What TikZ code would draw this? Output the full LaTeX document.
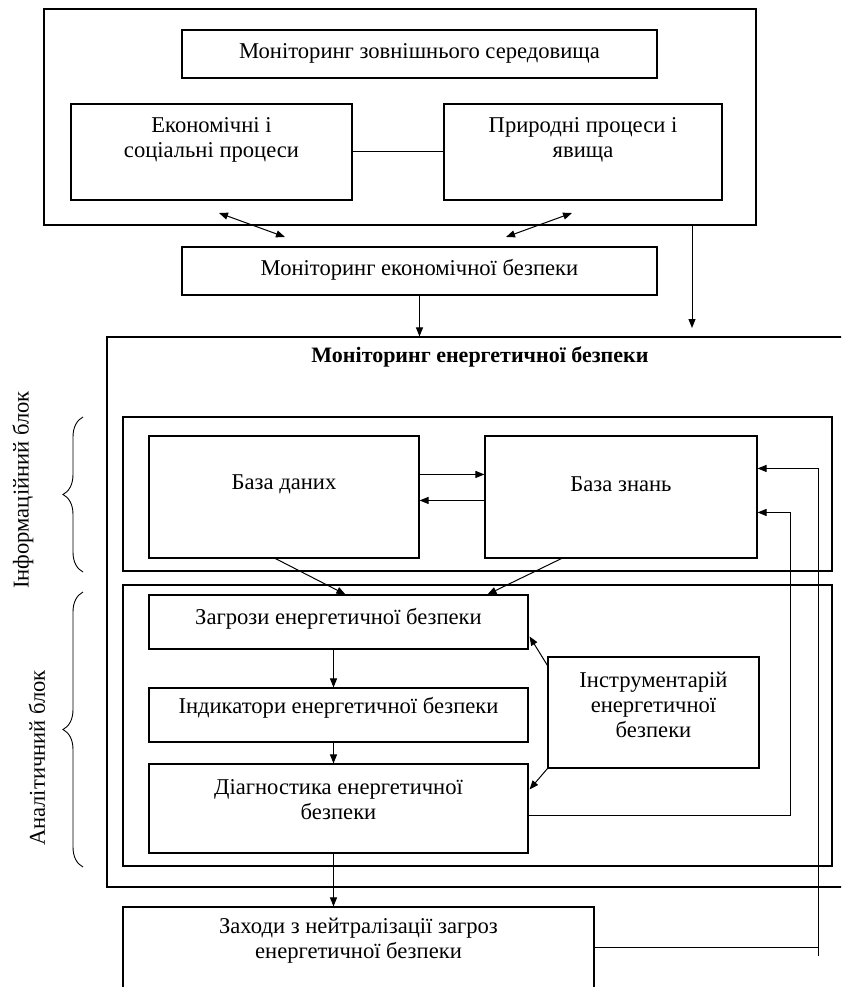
\documentclass[tikz,border=0pt]{standalone}
\usepackage{fontspec}
\setmainfont{Liberation Serif}
\usetikzlibrary{arrows.meta,calc,decorations.pathreplacing}
\begin{document}
\begin{tikzpicture}[x=1pt,y=-1pt,
  box/.style={draw, line width=1.1pt, inner sep=0pt},
  txt/.style={align=center, font=\fontsize{22.6}{25}\selectfont, inner sep=0pt},
  conn/.style={line width=1pt},
  arr/.style={line width=1pt, -{Triangle[length=9pt,width=7pt]}},
  darr/.style={line width=1pt, {Triangle[length=9pt,width=7pt]}-{Triangle[length=9pt,width=7pt]}},
  brc/.style={line width=0.9pt, decorate, decoration={brace, amplitude=20pt}},
]
\path[use as bounding box, clip] (0,0) rectangle (841,987);
\fill[white] (0,0) rectangle (841,987);

% top block
\node[box, minimum width=712pt, minimum height=216pt] (outer) at (400,117) {};
\node[box, minimum width=475pt, minimum height=48pt] (ext) at (419.5,54) {};
\node[txt] (extT) at (419.5,53) {Моніторинг зовнішнього середовища};
\node[box, minimum width=281pt, minimum height=96pt] (eco) at (211.5,152) {};
\node[txt] (ecoT) at (211.5,140) {Економічні і\\соціальні процеси};
\node[box, minimum width=278pt, minimum height=96pt] (nat) at (583,152) {};
\node[txt] (natT) at (583,140) {Природні процеси і\\явища};
\draw[conn] (eco.east) -- (nat.west);

\coordinate (a1) at (219,213);
\coordinate (a2) at (285,237);
\coordinate (b1) at (572,213);
\coordinate (b2) at (506,237);
\draw[darr] (a1) -- (a2);
\draw[darr] (b1) -- (b2);

\node[box, minimum width=475pt, minimum height=48pt] (ecsec) at (419.5,271) {};
\node[txt] (ecsecT) at (419.5,270) {Моніторинг економічної безпеки};

% energy security block
\node[box, minimum width=753pt, minimum height=550pt] (energy) at (483.5,612) {};
\node[txt, font=\fontsize{22}{25}\selectfont\bfseries] (title) at (480,357) {Моніторинг енергетичної безпеки};

\draw[arr] (ecsec.south) -- (ecsec.south |- energy.north);
\coordinate (oc) at (692,328);
\draw[arr] (outer.south -| oc) -- (oc);

% info block
\node[box, minimum width=709pt, minimum height=154pt] (info) at (477.5,494) {};
\node[box, minimum width=270pt, minimum height=122pt] (db) at (284,497) {};
\node[txt] (dbT) at (284,484) {База даних};
\node[box, minimum width=272pt, minimum height=122pt] (kb) at (621,497) {};
\node[txt] (kbT) at (621,484) {База знань};
\draw[arr] ($(db.north east)+(0,39)$) -- ($(kb.north west)+(0,39)$);
\draw[arr] ($(kb.north west)+(0,65)$) -- ($(db.north east)+(0,65)$);

% analytic block
\node[box, minimum width=709pt, minimum height=281pt] (anal) at (477.5,725.5) {};
\node[box, minimum width=379pt, minimum height=54pt] (threat) at (338.5,622) {};
\node[txt] (threatT) at (338.5,619) {Загрози енергетичної безпеки};
\node[box, minimum width=379pt, minimum height=54pt] (ind) at (338.5,715) {};
\node[txt] (indT) at (338.5,708) {Індикатори енергетичної безпеки};
\node[box, minimum width=379pt, minimum height=89pt] (diag) at (338.5,808.5) {};
\node[txt] (diagT) at (338.5,800) {Діагностика енергетичної\\безпеки};
\node[box, minimum width=211pt, minimum height=111pt] (tool) at (653.5,712.5) {};
\node[txt] (toolT) at (653.5,705) {Інструментарій\\енергетичної\\безпеки};

\draw[arr] ($(db.south west)+(127,0)$) -- ($(threat.north west)+(197,0)$);
\draw[arr] ($(kb.south west)+(77,0)$) -- ($(threat.north west)+(339,0)$);
\draw[arr] ($(threat.south)+(-5,0)$) -- ($(ind.north)+(-5,0)$);
\draw[arr] ($(ind.south)+(-5,0)$) -- ($(diag.north)+(-5,0)$);
\draw[arr] ($(tool.north west)+(0,9)$) -- ($(threat.north east)+(1,42)$);
\draw[arr] (tool.south west) -- ($(diag.north east)+(1,26)$);
\draw[arr] ($(diag.north east)+(0,52)$) -- ++(262,0) |- ($(kb.north east)+(0,77)$);

% measures
\node[box, minimum width=471pt, minimum height=93pt] (meas) at (358.5,953.5) {};
\node[txt] (measT) at (358.5,941) {Заходи з нейтралізації загроз\\енергетичної безпеки};
\coordinate (dbot) at ($(diag.south)+(-5,0)$);
\draw[arr] (dbot) -- (dbot |- meas.north);
\draw[conn] ($(meas.north east)+(0,41)$) -- ++(224,0) coordinate (mc);
\draw[arr] ($(mc)+(0,9)$) |- ($(kb.north east)+(0,33)$);

% side labels
\draw[brc] (83,572) -- (83,417);
\draw[brc] (83,867) -- (83,592);
\node[txt, rotate=90] (infoL) at (23,490) {Інформаційний блок};
\node[txt, rotate=90] (analL) at (37,758) {Аналітичний блок};
\end{tikzpicture}
\end{document}
